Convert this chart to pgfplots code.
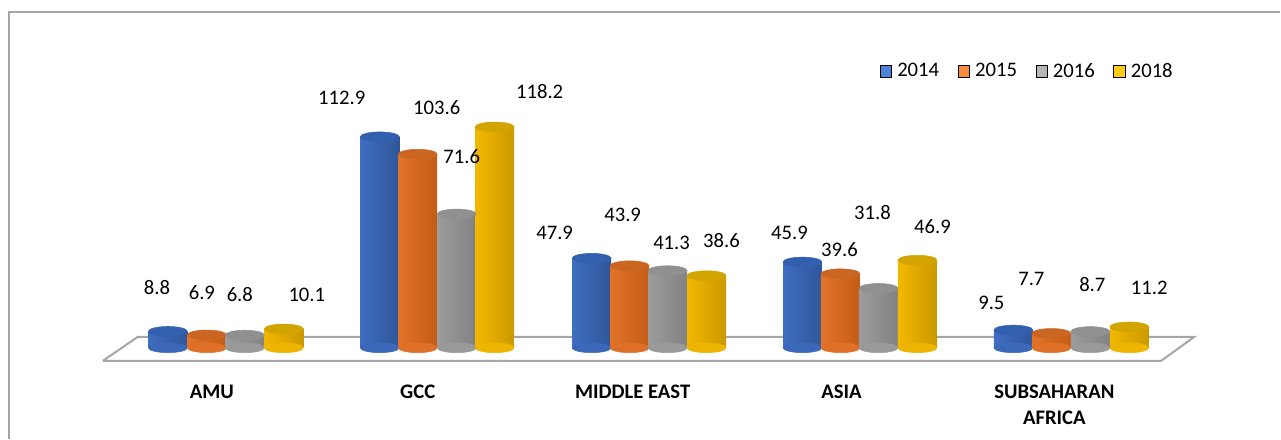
\documentclass[border=0pt]{standalone}
\usepackage{pgfplots}
\pgfplotsset{compat=1.18}
\usepackage{pgfplotstable}
\usepackage{fontspec}
\setmainfont{Carlito}

\definecolor{bL}{HTML}{3F6DC0}\definecolor{bM}{HTML}{4F82DA}\definecolor{bR}{HTML}{2F5699}\definecolor{bT}{HTML}{3360AE}\definecolor{bB}{HTML}{3B68B8}
\definecolor{oL}{HTML}{E2732A}\definecolor{oM}{HTML}{FA8B3E}\definecolor{oR}{HTML}{C45C16}\definecolor{oT}{HTML}{CB6522}\definecolor{oB}{HTML}{DE7028}
\definecolor{gL}{HTML}{9C9C9C}\definecolor{gM}{HTML}{B5B5B5}\definecolor{gR}{HTML}{828282}\definecolor{gT}{HTML}{909090}\definecolor{gB}{HTML}{9A9A9A}
\definecolor{yL}{HTML}{F2B800}\definecolor{yM}{HTML}{FFCD14}\definecolor{yR}{HTML}{CB9900}\definecolor{yT}{HTML}{D2A400}\definecolor{yB}{HTML}{EDB400}
\definecolor{frame}{HTML}{A6A6A6}

% x (px), value, label x (px), label y (value units)
\pgfplotstableread{
x v lx ly
168 8.8 157 32.09
380 112.9 342 133.69
592 47.9 555 61.50
803 45.9 790 61.50
1014 9.5 992 24.06
}\tA
\pgfplotstableread{
x v lx ly
207 6.9 202 29.41
418 103.6 437 128.34
630 43.9 623 71.12
841 39.6 840 52.41
1052 7.7 1032 36.90
}\tB
\pgfplotstableread{
x v lx ly
245 6.8 240 28.34
457 71.6 462 102.14
668 41.3 672 56.15
879 31.8 873 72.19
1091 8.7 1093 33.69
}\tC
\pgfplotstableread{
x v lx ly
284 10.1 307 28.34
495 118.2 540 136.90
707 38.6 722 57.22
918 46.9 933 64.71
1130 11.2 1150 32.09
}\tD

\begin{document}
\begin{tikzpicture}
\begin{axis}[
  scale only axis, width=960.75pt, height=329.25pt,
  xmin=0, xmax=1281, ymin=-48.66, ymax=186.1,
  hide axis, clip=false,
  /pgf/number format/assume math mode=true,
  legend style={at={(rel axis cs:0.684,0.838)}, anchor=west, draw=none, fill=none,
    font=\fontsize{15.5}{17}\selectfont, legend columns=4,
    /tikz/every odd column/.append style={column sep=2pt},
    /tikz/every even column/.append style={column sep=12pt}},
  legend image code/.code={\fill[#1] (0pt,-4.3pt) rectangle (8.6pt,4.3pt);},
  cyl/.style n args={3}{ybar, bar width=29.25pt, bar shift=0pt, draw=none,
     left color=#1, middle color=#2, right color=#3},
  ell/.style={only marks, mark=*, mark size=14.6pt, color=#1, mark options={yscale=0.25, draw=#1, fill=#1}},
  lab/.style={draw=none, mark=none, nodes near coords, point meta=explicit,
     nodes near coords={\pgfmathprintnumber[fixed,precision=1,fixed zerofill]{\pgfplotspointmeta}},
     every node near coord/.append style={anchor=center, font=\fontsize{15.5}{17}\selectfont, text=black}},
]
% frame
\draw[frame, line width=1.2pt] (rel axis cs:0.007,0) -- (rel axis cs:0.007,0.973) -- (rel axis cs:1,0.973);
% floor
\addplot[frame, line width=1.5pt, forget plot] coordinates {(103,-6.95) (1162,-6.95) (1195,5.88) (138,5.88) (103,-6.95)};

% 2014
\addplot[ell=bB, forget plot] table[x=x, y expr=0] {\tA};
\pgfplotsinvokeforeach{0,...,4}{\addplot[cyl={bL}{bM}{bR}, forget plot, restrict expr to domain={\coordindex}{#1:#1}] table[x=x, y=v] {\tA};}
\addplot[ell=bT, forget plot] table[x=x, y=v] {\tA};
% 2015
\addplot[ell=oB, forget plot] table[x=x, y expr=0] {\tB};
\pgfplotsinvokeforeach{0,...,4}{\addplot[cyl={oL}{oM}{oR}, forget plot, restrict expr to domain={\coordindex}{#1:#1}] table[x=x, y=v] {\tB};}
\addplot[ell=oT, forget plot] table[x=x, y=v] {\tB};
% 2016
\addplot[ell=gB, forget plot] table[x=x, y expr=0] {\tC};
\pgfplotsinvokeforeach{0,...,4}{\addplot[cyl={gL}{gM}{gR}, forget plot, restrict expr to domain={\coordindex}{#1:#1}] table[x=x, y=v] {\tC};}
\addplot[ell=gT, forget plot] table[x=x, y=v] {\tC};
% 2018
\addplot[ell=yB, forget plot] table[x=x, y expr=0] {\tD};
\pgfplotsinvokeforeach{0,...,4}{\addplot[cyl={yL}{yM}{yR}, forget plot, restrict expr to domain={\coordindex}{#1:#1}] table[x=x, y=v] {\tD};}
\addplot[ell=yT, forget plot] table[x=x, y=v] {\tD};

% labels
\addplot[lab, forget plot] table[x=lx, y=ly, meta=v] {\tA};
\addplot[lab, forget plot] table[x=lx, y=ly, meta=v] {\tB};
\addplot[lab, forget plot] table[x=lx, y=ly, meta=v] {\tC};
\addplot[lab, forget plot] table[x=lx, y=ly, meta=v] {\tD};

\addlegendimage{fill=bM}\addlegendentry{2014}
\addlegendimage{fill=oM}\addlegendentry{2015}
\addlegendimage{fill=gM}\addlegendentry{2016}
\addlegendimage{fill=yM}\addlegendentry{2018}

% categories
\begin{scope}[every node/.style={font=\bfseries\fontsize{15.5}{19}\selectfont, align=center, anchor=north}]
\node at (axis cs:212,-17.5) {AMU};
\node at (axis cs:418,-17.5) {GCC};
\node at (axis cs:633,-17.5) {MIDDLE EAST};
\node at (axis cs:842,-17.5) {ASIA};
\node at (axis cs:1055,-17.5) {SUBSAHARAN\\AFRICA};
\end{scope}
\path (rel axis cs:0,0) rectangle (rel axis cs:1,1);
\end{axis}
\end{tikzpicture}
\end{document}
